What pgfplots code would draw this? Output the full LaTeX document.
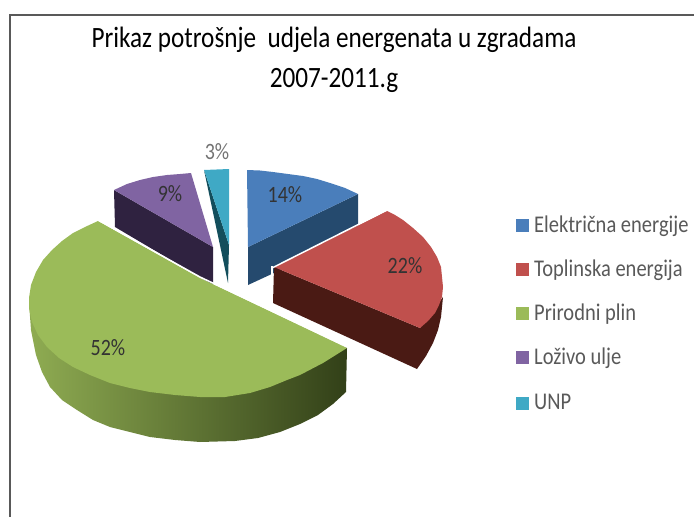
\documentclass[border=0pt]{standalone}
\usepackage{graphicx}
\usepackage{pgfplots}
\usepackage{fontspec}
\setmainfont{Carlito}
\pgfplotsset{compat=1.18}
\definecolor{bT}{HTML}{4A7EBB}\definecolor{bS}{HTML}{254A6E}
\definecolor{rT}{HTML}{C0504D}\definecolor{rS}{HTML}{4A1A14}
\definecolor{gT}{HTML}{9BBB59}
\definecolor{pT}{HTML}{8064A2}\definecolor{pS}{HTML}{2F2240}
\definecolor{cT}{HTML}{3FA9C5}\definecolor{cS}{HTML}{134E5C}
\newcommand{\tl}[1]{\fontsize{#1bp}{#1bp}\selectfont}
\newcommand{\tall}[1]{\scalebox{1}[1.17]{#1}}
\begin{document}
\begin{tikzpicture}
\path[use as bounding box] (0,0) rectangle (694bp,517bp);
\begin{axis}[at={(0,0)},anchor=south west,scale only axis,width=694bp,height=517bp,
  xmin=0,xmax=694,ymin=0,ymax=517,y dir=reverse,hide axis,clip=false]
% frame
\addplot[draw=black!65,line width=2bp] coordinates {(9.5,517)(9.5,15)(694,15)};
% blue
\addplot[fill=bS,draw=none] coordinates {(248,247)(358,194)(358,234)(248,285)} --cycle;
\addplot[fill=bT,draw=none] coordinates {(247,170)(260,170.5)(273,172)(288,174)(303,176)(317,179)(330,183)(345,188)(358,194)(248,247)} --cycle;
% cyan
\addplot[fill=cS,draw=none] coordinates {(204,170)(229,245)(228,283)} --cycle;
\addplot[fill=cT,draw=none] coordinates {(204,170)(229,169)(229,245)} --cycle;
% purple
\addplot[fill=pS,draw=none] coordinates {(114,190)(115,227)(213,285)(213,247)} --cycle;
\addplot[fill=pT,draw=none] coordinates {(114,190)(127,184)(140,180)(153,177)(167,175)(180,174)(191,173)(213,247)} --cycle;
% red
\addplot[fill=rS,draw=none] coordinates {(274,267)(273,303)(417,369)(426,356)(433,343)(438,330)(441,317)(443,297)(420,328)} --cycle;
\addplot[fill=rT,draw=none] coordinates {(274,267)(387,211)(395,215)(403,220)(413,228)(423,237)(431,247)(437,257)(441,267)(442,277)(443,287)(442,297)(439,305)(435,313)(428,321)(420,328)} --cycle;
\addplot[white,line width=1.5bp] coordinates {(272,268)(387,210)};
\addplot[white,line width=1.5bp] coordinates {(272,266)(272,304)};
% green
\addplot[draw=none,
  left color={rgb,255:red,143;green,172;blue,82},middle color={rgb,255:red,96;green,120;blue,52},right color={rgb,255:red,50;green,64;blue,24}]
  coordinates {(347,348)(346,392)(333,404)(318,415)(300,424)(280,432)(258,438)(235,441)(200,442)(175,440)(150,437)(130,432)(110,427)(93,420)(77,410)(62,400)(50,387)(42,372)(36,355)(31,330)(29,303)} --cycle;
\addplot[fill=gT,draw=none] coordinates {(98,221)(85,227)(73,233)(62,241)(52,250)(43,260)(36,272)(31,285)(29,298)(29,308)(32,322)(38,335)(47,347)(59,358)(73,367)(90,375)(110,383)(130,388)(150,392)(175,395)(200,397)(225,397)(250,393)(270,387)(287,380)(300,375)(323,363)(347,348)(200,278)} --cycle;
\addplot[white,line width=1.5bp] coordinates {(98,220)(200,277)(348,347)};
% legend markers
\addplot[only marks,mark=square*,mark size=6bp,mark options={draw=bT,fill=bT}] coordinates {(522,225)};
\addplot[only marks,mark=square*,mark size=6bp,mark options={draw=rT,fill=rT}] coordinates {(522,269.5)};
\addplot[only marks,mark=square*,mark size=6bp,mark options={draw=gT,fill=gT}] coordinates {(522,313.5)};
\addplot[only marks,mark=square*,mark size=6bp,mark options={draw=pT,fill=pT}] coordinates {(522,357.5)};
\addplot[only marks,mark=square*,mark size=6bp,mark options={draw=cT,fill=cT}] coordinates {(522,403)};
% labels
\node[black!80,font=\tl{20}] at (axis cs:285,195) {\tall{14\%}};
\node[black!80,font=\tl{20}] at (axis cs:405,266) {\tall{22\%}};
\node[black!80,font=\tl{20}] at (axis cs:108,348) {\tall{52\%}};
\node[black!80,font=\tl{20}] at (axis cs:170,194) {\tall{9\%}};
\node[black!55,font=\tl{20}] at (axis cs:217,152) {\tall{3\%}};
% legend text
\foreach \t/\y in {Električna energije/226,Toplinska energija/270,Prirodni plin/314,Loživo ulje/358,UNP/402}{
  \edef\temp{\noexpand\node[anchor=west,inner sep=0pt,text=black!65,font=\noexpand\tl{20.5}] at (axis cs:534,\y) {\noexpand\tall{\t}};}\temp}
% title
\node[black,font=\tl{25.2}] at (axis cs:334,40) {\tall{Prikaz potrošnje\ \ udjela energenata u zgradama}};
\node[black,font=\tl{25.2}] at (axis cs:334,80) {\tall{2007-2011.g}};
\end{axis}
\end{tikzpicture}
\end{document}
